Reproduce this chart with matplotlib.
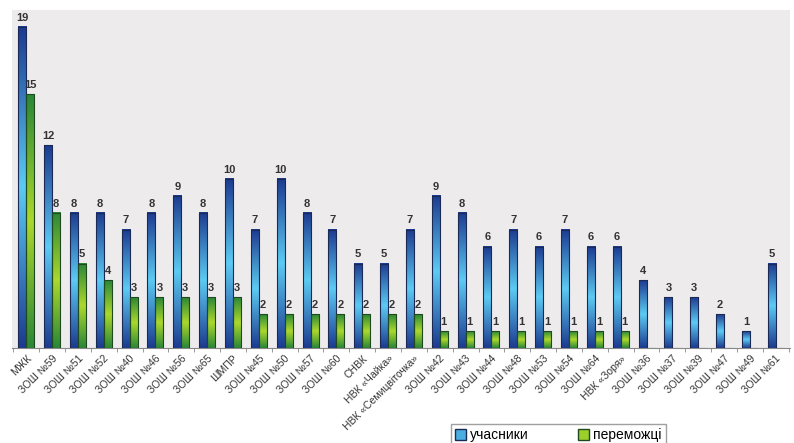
import matplotlib
matplotlib.use("Agg")
import matplotlib.pyplot as plt
import numpy as np
from matplotlib.colors import LinearSegmentedColormap
from matplotlib.patches import Patch

schools = ["МЖК", "ЗОШ №59", "ЗОШ №51", "ЗОШ №52", "ЗОШ №40", "ЗОШ №46",
           "ЗОШ №56", "ЗОШ №65", "ШМПР", "ЗОШ №45", "ЗОШ №50", "ЗОШ №57",
           "ЗОШ №60", "СНВК", "НВК «Чайка»", "НВК «Семицвіточка»", "ЗОШ №42",
           "ЗОШ №43", "ЗОШ №44", "ЗОШ №48", "ЗОШ №53", "ЗОШ №54", "ЗОШ №64",
           "НВК «Зоря»", "ЗОШ №36", "ЗОШ №37", "ЗОШ №39", "ЗОШ №47",
           "ЗОШ №49", "ЗОШ №61"]
participants = [19, 12, 8, 8, 7, 8, 9, 8, 10, 7, 10, 8, 7, 5, 5, 7, 9, 8,
                6, 7, 6, 7, 6, 6, 4, 3, 3, 2, 1, 5]
winners = [15, 8, 5, 4, 3, 3, 3, 3, 3, 2, 2, 2, 2, 2, 2, 2, 1, 1, 1, 1, 1,
           1, 1, 1, 0, 0, 0, 0, 0, 0]
legend_labels = ["учасники", "переможці"]

plt.rcParams['font.family'] = ['Liberation Sans', 'DejaVu Sans']

blue_cm = LinearSegmentedColormap.from_list("b", ["#1c3a8f", "#5ccbf3", "#1c3a8f"])
green_cm = LinearSegmentedColormap.from_list("g", ["#2a8638", "#acd82c", "#2a8638"])

fig = plt.figure(figsize=(7.94, 4.43), dpi=100)
ax = fig.add_axes([12 / 794, 1 - 348 / 443, 778 / 794, 338 / 443])
ax.set_facecolor("#eeebed")

x = np.arange(len(schools))
w = 0.31
bars_p = ax.bar(x - w / 2, participants, w, facecolor="none",
                edgecolor="#1a2a55", linewidth=0.8, zorder=3)
bars_w = ax.bar(x + w / 2, winners, w, facecolor="none",
                edgecolor="#1f4a20", linewidth=0.8, zorder=3)

# vertical gradient fill, dark at both ends
grad = np.linspace(0, 1, 256).reshape(-1, 1)
for bars, cm in ((bars_p, blue_cm), (bars_w, green_cm)):
    for b in bars:
        h = b.get_height()
        if h <= 0:
            continue
        x0 = b.get_x()
        ax.imshow(grad, cmap=cm, aspect="auto", zorder=2,
                  extent=(x0, x0 + b.get_width(), 0, h))

for bars in (bars_p, bars_w):
    for b in bars:
        h = b.get_height()
        if h > 0:
            ax.text(b.get_x() + b.get_width() / 2, h + 0.25, str(int(h)),
                    ha="center", va="bottom", fontsize=8,
                    fontweight="bold", color="#333333")

ax.set_xlim(-0.55, len(schools) - 0.45)
ax.set_ylim(0, 20)
ax.set_yticks([])
for s in ("top", "right", "left"):
    ax.spines[s].set_visible(False)
ax.spines["bottom"].set_color("#888888")

ax.set_xticks(x)
ax.set_xticklabels(schools, rotation=45, ha="right", rotation_mode="anchor",
                   fontsize=7.5, color="#333333")
ax.tick_params(axis="x", length=0, pad=4)
ax.set_xticks(np.arange(-0.5, len(schools), 1), minor=True)
ax.tick_params(axis="x", which="minor", length=3, color="#888888")

handles = [Patch(facecolor="#4aaee0", edgecolor="#1a2a55"),
           Patch(facecolor="#9ccf2c", edgecolor="#1f4a20")]
fig.legend(handles, legend_labels, loc="upper center",
           bbox_to_anchor=(0.703, 1 - 424 / 443), ncol=2, fontsize=10,
           frameon=True, fancybox=False, edgecolor="#888888",
           handlelength=0.8, handleheight=0.8, handletextpad=0.3,
           columnspacing=3.5, borderpad=0.3, borderaxespad=0)

fig.savefig("out.png", dpi=100)
